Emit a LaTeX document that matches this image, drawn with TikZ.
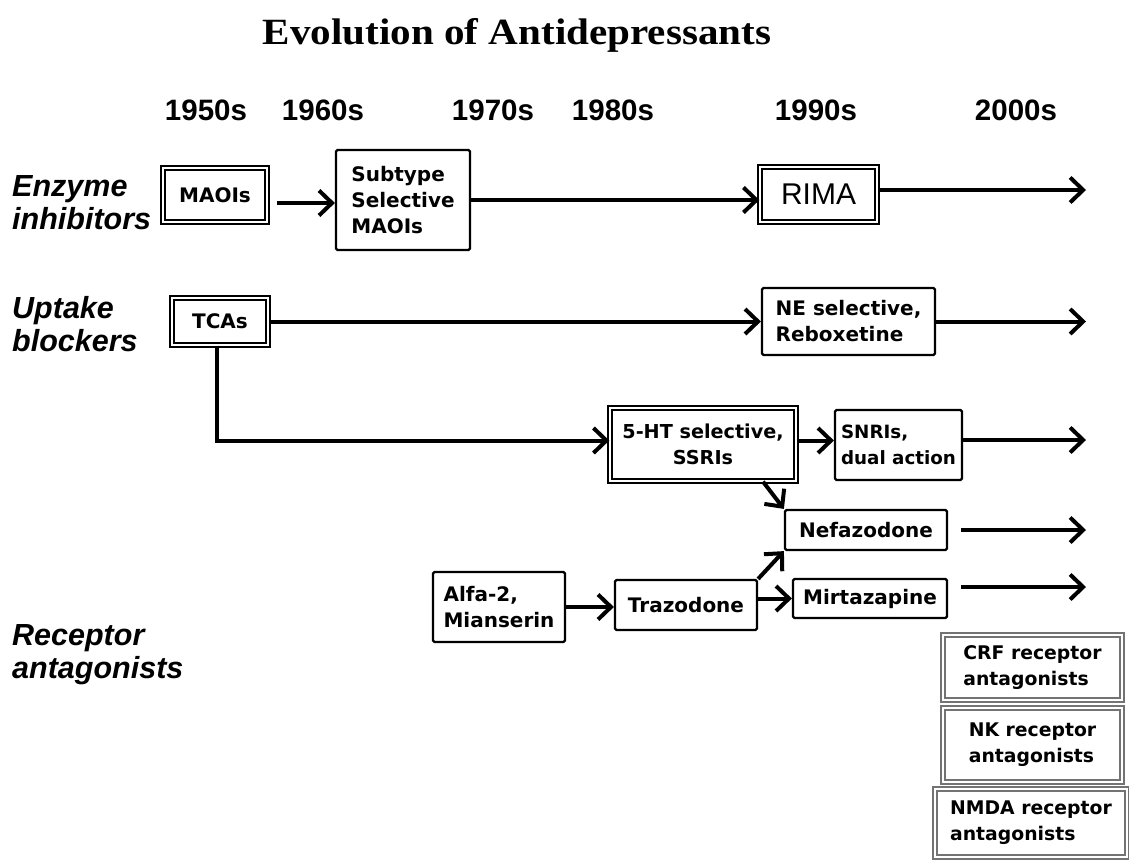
\documentclass[tikz,border=0pt]{standalone}
\usepackage{fontspec}
\usepackage{graphicx}
\setmainfont{DejaVu Sans}
\newfontfamily\arialf{Liberation Sans}
\newfontfamily\timesf{Liberation Serif}
\usetikzlibrary{arrows.meta}
\begin{document}
\begin{tikzpicture}[x=1pt,y=-1pt,
  box/.style={draw, line width=2.2pt, rounded corners=1.5pt, inner sep=0pt,
    font=\fontsize{20}{26}\selectfont\bfseries, align=left},
  dbox/.style={box, double, line width=1.3pt, double distance=2.6pt, rounded corners=0pt},
  gbox/.style={dbox, draw=black!55, font=\fontsize{18.8}{26}\selectfont\bfseries},
  arr/.style={line width=4pt, -{Straight Barb[length=13pt,width=25pt]}},
  year/.style={font=\arialf\fontsize{29.5}{30}\selectfont\bfseries},
  rowlab/.style={font=\arialf\fontsize{30.5}{33}\selectfont\bfseries\itshape, align=left, anchor=west, inner sep=0pt},
]
\useasboundingbox (0,0) rectangle (1129,859);

% title
\node[font=\timesf\fontsize{37}{40}\selectfont\bfseries] (title) at (517,35) {\scalebox{1.11}[1]{Evolution of Antidepressants}};

% years
\node[year] (y50) at (206,110) {1950s};
\node[year] (y60) at (323,110) {1960s};
\node[year] (y70) at (493,110) {1970s};
\node[year] (y80) at (613,110) {1980s};
\node[year] (y90) at (816,110) {1990s};
\node[year] (y00) at (1016,110) {2000s};

% row labels
\node[rowlab] (r1) at (12,203) {Enzyme\\inhibitors};
\node[rowlab] (r2) at (12,324) {Uptake\\blockers};
\node[rowlab] (r3) at (12,655) {Receptor\\antagonists};

% boxes
\node[dbox, minimum width=104pt, minimum height=54pt] (maoi) at (215,195) {MAOIs};
\node[box, minimum width=134pt, minimum height=100pt] (sub) at (403,200) {Subtype\\Selective\\MAOIs};
\node[dbox, minimum width=117pt, minimum height=55pt, font=\arialf\fontsize{30}{32}\selectfont] (rima) at (818.5,194.5) {RIMA};
\node[dbox, minimum width=96pt, minimum height=47pt] (tca) at (220,321.5) {TCAs};
\node[box, minimum width=173pt, minimum height=67pt] (ne) at (848.5,321.5) {NE selective,\\Reboxetine};
\node[dbox, minimum width=186pt, minimum height=73pt, align=center, font=\fontsize{19.2}{26}\selectfont\bfseries] (ht) at (703,444.5) {5-HT selective,\\SSRIs};
\node[box, minimum width=127pt, minimum height=70pt, font=\fontsize{18.3}{26}\selectfont\bfseries] (snri) at (898.5,445) {SNRIs,\\dual action};
\node[box, minimum width=162pt, minimum height=40pt] (nef) at (866,530) {Nefazodone};
\node[box, minimum width=132pt, minimum height=70pt] (alfa) at (499,607) {Alfa-2,\\Mianserin};
\node[box, minimum width=142pt, minimum height=50pt] (traz) at (686,605) {Trazodone};
\node[box, minimum width=154pt, minimum height=39pt] (mirt) at (870,598.5) {Mirtazapine};
\node[gbox, minimum width=179pt, minimum height=65pt] (crf) at (1032.5,667.5) {CRF receptor\\antagonists};
\node[gbox, minimum width=179pt, minimum height=74pt] (nk) at (1032.5,745) {NK receptor\\antagonists};
\node[gbox, minimum width=192pt, minimum height=68pt] (nmda) at (1031,823) {NMDA receptor\\antagonists};

% free ends
\coordinate (e1) at (1086,190);
\coordinate (e2) at (1086,321.5);
\coordinate (e3) at (1086,440);
\coordinate (e4) at (1086,531);
\coordinate (e5) at (1086,587);

% connectors
\draw[arr, shorten <=9pt] ([yshift=-8pt]maoi.east) -- ([yshift=-8pt]maoi.east -| sub.west);
\draw[arr] (sub.east) -- (sub.east -| rima.west);
\draw[arr] (rima.east |- e1) -- (e1);
\draw[arr] (tca.east) -- (tca.east -| ne.west);
\draw[arr] (ne.east) -- (e2);
\draw[arr] ([xshift=-3pt]tca.south) |- ([yshift=4pt]ht.west);
\draw[arr] ([yshift=4pt]ht.east) -- ([yshift=4pt]ht.east -| snri.west);
\draw[arr] (snri.east |- e3) -- (e3);
\draw[arr] ([xshift=60pt]ht.south) -- (nef.north west);
\draw[arr, shorten <=13pt] (nef.east) -- (nef.east -| e4);
\draw[arr] (alfa.east) -- (alfa.east -| traz.west);
\draw[arr] (traz.north east) -- (nef.south west);
\draw[arr] (traz.east |- mirt.west) -- (mirt.west);
\draw[arr, shorten <=13pt] (mirt.east |- e5) -- (e5);
\end{tikzpicture}
\end{document}
